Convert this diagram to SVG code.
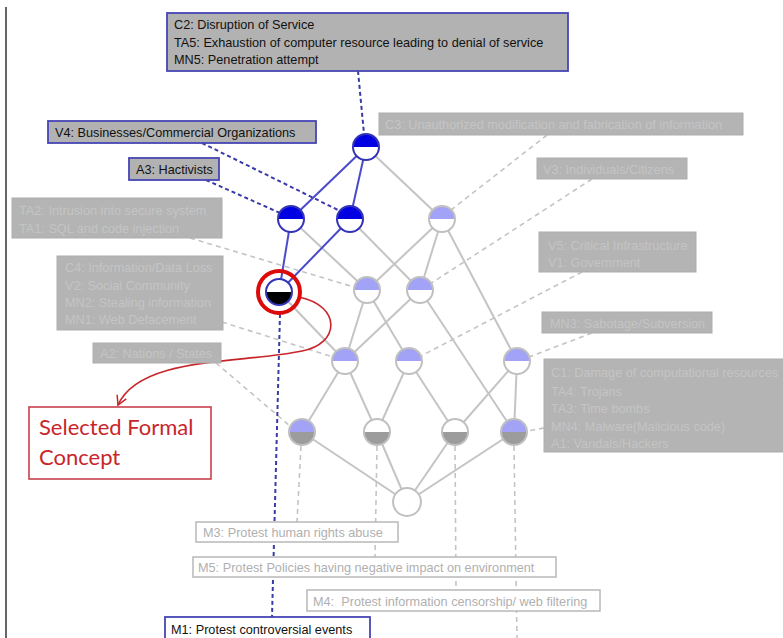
<svg xmlns="http://www.w3.org/2000/svg" xmlns:xlink="http://www.w3.org/1999/xlink" width="783" height="638" viewBox="0 0 783 638">
  <style>
    text { font-family: "Liberation Sans", Arial, sans-serif; font-size: 12.7px; }
    .sel-box { fill: #b2b2b2; stroke: #4545b5; stroke-width: 1.8; }
    .sel-txt { fill: #111; }
    .dim-box { fill: #b4b4b4; stroke: #adadad; stroke-width: 1; }
    .dim-txt { fill: #c4c4c4; }
    .obj-box { fill: #ffffff; stroke: #b8b8b8; stroke-width: 1.5; }
    .obj-txt { fill: #b0b0b0; }
    .e-grey { stroke: #c4c4c4; stroke-width: 2; fill: none; }
    .e-blue { stroke: #4a4acc; stroke-width: 2; fill: none; }
    .d-grey { stroke: #c4c4c4; stroke-width: 1.6; stroke-dasharray: 5 4; fill: none; }
    .d-blue { stroke: #3a3aa8; stroke-width: 2; stroke-dasharray: 4 3; fill: none; }
    .f-blue { fill: #0000e2; }
    .f-lav { fill: #a2a2f6; }
    .f-white { fill: #ffffff; }
    .f-grey { fill: #9c9c9c; }
    .f-black { fill: #000000; }
    .o-blue { fill: none; stroke: #3434b8; stroke-width: 2; }
    .o-grey { fill: none; stroke: #c0c0c0; stroke-width: 2; }
  </style>
  <defs>
    <path id="upper" d="M-13 0A13 13 0 0 1 13 0Z"/>
    <path id="lower" d="M-13 0A13 13 0 0 0 13 0Z"/>
    <marker id="openhead" viewBox="0 0 12 12" refX="10" refY="6" markerWidth="12" markerHeight="12" markerUnits="userSpaceOnUse" orient="auto">
      <path d="M1 1L10 6L1 11" fill="none" stroke="#c8252b" stroke-width="1.5"/>
    </marker>
  </defs>

  <rect width="783" height="638" fill="#ffffff"/>
  <line x1="6" y1="7" x2="6" y2="638" stroke="#333" stroke-width="1.5"/>

  <!-- connectors: lattice edges and label leaders -->
  <g id="connectors">
    <!-- lattice edges -->
    <line class="e-grey" x1="366" y1="147" x2="442" y2="219"/>
    <line class="e-grey" x1="291" y1="219" x2="367" y2="290"/>
    <line class="e-grey" x1="350" y1="219" x2="420" y2="290"/>
    <line class="e-grey" x1="442" y1="219" x2="367" y2="290"/>
    <line class="e-grey" x1="442" y1="219" x2="420" y2="290"/>
    <line class="e-grey" x1="442" y1="219" x2="517" y2="361"/>
    <line class="e-grey" x1="279" y1="292" x2="345" y2="361"/>
    <line class="e-grey" x1="367" y1="290" x2="345" y2="361"/>
    <line class="e-grey" x1="367" y1="290" x2="409" y2="361"/>
    <line class="e-grey" x1="420" y1="290" x2="345" y2="361"/>
    <line class="e-grey" x1="420" y1="290" x2="514" y2="432"/>
    <line class="e-grey" x1="345" y1="361" x2="302" y2="432"/>
    <line class="e-grey" x1="345" y1="361" x2="377" y2="432"/>
    <line class="e-grey" x1="409" y1="361" x2="377" y2="432"/>
    <line class="e-grey" x1="409" y1="361" x2="455" y2="432"/>
    <line class="e-grey" x1="517" y1="361" x2="455" y2="432"/>
    <line class="e-grey" x1="517" y1="361" x2="514" y2="432"/>
    <line class="e-grey" x1="302" y1="432" x2="407" y2="502"/>
    <line class="e-grey" x1="377" y1="432" x2="407" y2="502"/>
    <line class="e-grey" x1="455" y1="432" x2="407" y2="502"/>
    <line class="e-grey" x1="514" y1="432" x2="407" y2="502"/>
    <line class="e-blue" x1="366" y1="147" x2="291" y2="219"/>
    <line class="e-blue" x1="366" y1="147" x2="350" y2="219"/>
    <line class="e-blue" x1="291" y1="219" x2="279" y2="292"/>
    <line class="e-blue" x1="350" y1="219" x2="279" y2="292"/>

    <!-- leaders from attribute labels -->
    <line class="d-blue" x1="358" y1="71" x2="364" y2="134"/>
    <line class="d-blue" x1="202" y1="143" x2="340" y2="211"/>
    <line class="d-blue" x1="206" y1="180" x2="280" y2="213"/>
    <line class="d-grey" x1="547" y1="135" x2="451" y2="210"/>
    <line class="d-grey" x1="592" y1="179" x2="430" y2="284"/>
    <line class="d-grey" x1="190" y1="238" x2="354" y2="287"/>
    <line class="d-grey" x1="222" y1="322" x2="333" y2="357"/>
    <line class="d-grey" x1="216" y1="363" x2="290" y2="426"/>
    <line class="d-grey" x1="582" y1="272" x2="421" y2="356"/>
    <line class="d-grey" x1="592" y1="333" x2="529" y2="357"/>
    <line class="d-grey" x1="544" y1="428" x2="527" y2="431"/>

    <!-- leaders to object labels -->
    <line class="d-blue" x1="280" y1="314" x2="272" y2="617"/>
    <line class="d-grey" x1="301" y1="446" x2="297" y2="522"/>
    <line class="d-grey" x1="377" y1="446" x2="375" y2="557"/>
    <line class="d-grey" x1="455" y1="446" x2="456" y2="590"/>
    <line class="d-grey" x1="514" y1="446" x2="517" y2="638"/>

    <!-- pointer to the selected concept -->
    <path d="M299 297C342 306 340 344 302 351C240 364 140 356 118 405" fill="none" stroke="#c8252b" stroke-width="1.6" marker-end="url(#openhead)"/>
  </g>

  <!-- attribute labels -->
  <g id="lbl-c2">
    <rect class="sel-box" x="167" y="13" width="401" height="58"/>
    <text class="sel-txt" x="174" y="29">C2: Disruption of Service</text>
    <text class="sel-txt" x="174" y="47">TA5: Exhaustion of computer resource leading to denial of service</text>
    <text class="sel-txt" x="174" y="64">MN5: Penetration attempt</text>
  </g>
  <g id="lbl-v4">
    <rect class="sel-box" x="48" y="121" width="268" height="22"/>
    <text class="sel-txt" x="55" y="137">V4: Businesses/Commercial Organizations</text>
  </g>
  <g id="lbl-a3">
    <rect class="sel-box" x="129" y="158" width="90" height="22"/>
    <text class="sel-txt" x="136" y="174">A3: Hactivists</text>
  </g>
  <g id="lbl-c3">
    <rect class="dim-box" x="379" y="113" width="364" height="22"/>
    <text class="dim-txt" x="385" y="129">C3: Unauthorized modification and fabrication of information</text>
  </g>
  <g id="lbl-v3">
    <rect class="dim-box" x="537" y="158" width="150" height="21"/>
    <text class="dim-txt" x="543" y="174">V3: Individuals/Citizens</text>
  </g>
  <g id="lbl-ta2">
    <rect class="dim-box" x="12" y="198" width="210" height="40"/>
    <text class="dim-txt" x="19" y="215">TA2: Intrusion into secure system</text>
    <text class="dim-txt" x="19" y="233">TA1: SQL and code injection</text>
  </g>
  <g id="lbl-c4">
    <rect class="dim-box" x="57" y="256" width="166" height="74"/>
    <text class="dim-txt" x="65" y="272">C4: Information/Data Loss</text>
    <text class="dim-txt" x="65" y="290">V2: Social Community</text>
    <text class="dim-txt" x="65" y="307">MN2: Stealing information</text>
    <text class="dim-txt" x="65" y="324">MN1: Web Defacement</text>
  </g>
  <g id="lbl-a2">
    <rect class="dim-box" x="93" y="343" width="128" height="20"/>
    <text class="dim-txt" x="100" y="358">A2: Nations / States</text>
  </g>
  <g id="lbl-v5">
    <rect class="dim-box" x="539" y="232" width="157" height="40"/>
    <text class="dim-txt" x="548" y="250">V5: Critical Infrastructure</text>
    <text class="dim-txt" x="548" y="267">V1: Government</text>
  </g>
  <g id="lbl-mn3">
    <rect class="dim-box" x="542" y="312" width="170" height="21"/>
    <text class="dim-txt" x="550" y="328">MN3: Sabotage/Subversion</text>
  </g>
  <g id="lbl-c1">
    <rect class="dim-box" x="544" y="359" width="245" height="93"/>
    <text class="dim-txt" x="551" y="377">C1: Damage of computational resources</text>
    <text class="dim-txt" x="551" y="396">TA4: Trojans</text>
    <text class="dim-txt" x="551" y="413">TA3: Time bombs</text>
    <text class="dim-txt" x="551" y="431">MN4: Malware(Malicious code)</text>
    <text class="dim-txt" x="551" y="448">A1: Vandals/Hackers</text>
  </g>

  <!-- object labels -->
  <g id="lbl-m3">
    <rect class="obj-box" x="196" y="522" width="202" height="20"/>
    <text class="obj-txt" x="203" y="537">M3: Protest human rights abuse</text>
  </g>
  <g id="lbl-m5">
    <rect class="obj-box" x="193" y="557" width="363" height="20"/>
    <text class="obj-txt" x="198" y="572">M5: Protest Policies having negative impact on environment</text>
  </g>
  <g id="lbl-m4">
    <rect class="obj-box" x="307" y="590" width="293" height="21"/>
    <text class="obj-txt" x="313" y="606" xml:space="preserve">M4:  Protest information censorship/ web filtering</text>
  </g>
  <g id="lbl-m1">
    <rect x="165" y="617" width="205" height="30" fill="#ffffff" stroke="#4545b5" stroke-width="1.8"/>
    <text class="sel-txt" x="171" y="634">M1: Protest controversial events</text>
  </g>

  <!-- callout -->
  <g id="callout">
    <rect x="29" y="407" width="182" height="72" fill="#ffffff" stroke="#c8404a" stroke-width="1.6"/>
    <text x="39" y="435" fill="#c8252b" style="font-family: Lato, 'Liberation Sans', sans-serif; font-size: 22px;">Selected Formal</text>
    <text x="39" y="465" fill="#c8252b" style="font-family: Lato, 'Liberation Sans', sans-serif; font-size: 22px;">Concept</text>
  </g>

  <!-- lattice nodes -->
  <g id="n-top" transform="translate(366,147)">
    <use xlink:href="#upper" class="f-blue"/><use xlink:href="#lower" class="f-white"/><circle r="13" class="o-blue"/>
  </g>
  <g id="n-a3" transform="translate(291,219)">
    <use xlink:href="#upper" class="f-blue"/><use xlink:href="#lower" class="f-white"/><circle r="13" class="o-blue"/>
  </g>
  <g id="n-v4" transform="translate(350,219)">
    <use xlink:href="#upper" class="f-blue"/><use xlink:href="#lower" class="f-white"/><circle r="13" class="o-blue"/>
  </g>
  <g id="n-c3" transform="translate(442,219)">
    <use xlink:href="#upper" class="f-lav"/><use xlink:href="#lower" class="f-white"/><circle r="13" class="o-grey"/>
  </g>
  <g id="n-selected" transform="translate(279,292)">
    <use xlink:href="#upper" class="f-white"/><use xlink:href="#lower" class="f-black"/><circle r="13" class="o-blue"/>
    <circle r="21" fill="none" stroke="#dd0a0a" stroke-width="4"/>
  </g>
  <g id="n-ta2" transform="translate(367,290)">
    <use xlink:href="#upper" class="f-lav"/><use xlink:href="#lower" class="f-white"/><circle r="13" class="o-grey"/>
  </g>
  <g id="n-v3" transform="translate(420,290)">
    <use xlink:href="#upper" class="f-lav"/><use xlink:href="#lower" class="f-white"/><circle r="13" class="o-grey"/>
  </g>
  <g id="n-c4" transform="translate(345,361)">
    <use xlink:href="#upper" class="f-lav"/><use xlink:href="#lower" class="f-white"/><circle r="13" class="o-grey"/>
  </g>
  <g id="n-v5" transform="translate(409,361)">
    <use xlink:href="#upper" class="f-lav"/><use xlink:href="#lower" class="f-white"/><circle r="13" class="o-grey"/>
  </g>
  <g id="n-mn3" transform="translate(517,361)">
    <use xlink:href="#upper" class="f-lav"/><use xlink:href="#lower" class="f-white"/><circle r="13" class="o-grey"/>
  </g>
  <g id="n-a2" transform="translate(302,432)">
    <use xlink:href="#upper" class="f-lav"/><use xlink:href="#lower" class="f-grey"/><circle r="13" class="o-grey"/>
  </g>
  <g id="n-m5" transform="translate(377,432)">
    <use xlink:href="#upper" class="f-white"/><use xlink:href="#lower" class="f-grey"/><circle r="13" class="o-grey"/>
  </g>
  <g id="n-m4" transform="translate(455,432)">
    <use xlink:href="#upper" class="f-white"/><use xlink:href="#lower" class="f-grey"/><circle r="13" class="o-grey"/>
  </g>
  <g id="n-c1" transform="translate(514,432)">
    <use xlink:href="#upper" class="f-lav"/><use xlink:href="#lower" class="f-grey"/><circle r="13" class="o-grey"/>
  </g>
  <g id="n-bottom" transform="translate(407,502)">
    <circle r="14" fill="#ffffff" stroke="#c0c0c0" stroke-width="2"/>
  </g>
</svg>
